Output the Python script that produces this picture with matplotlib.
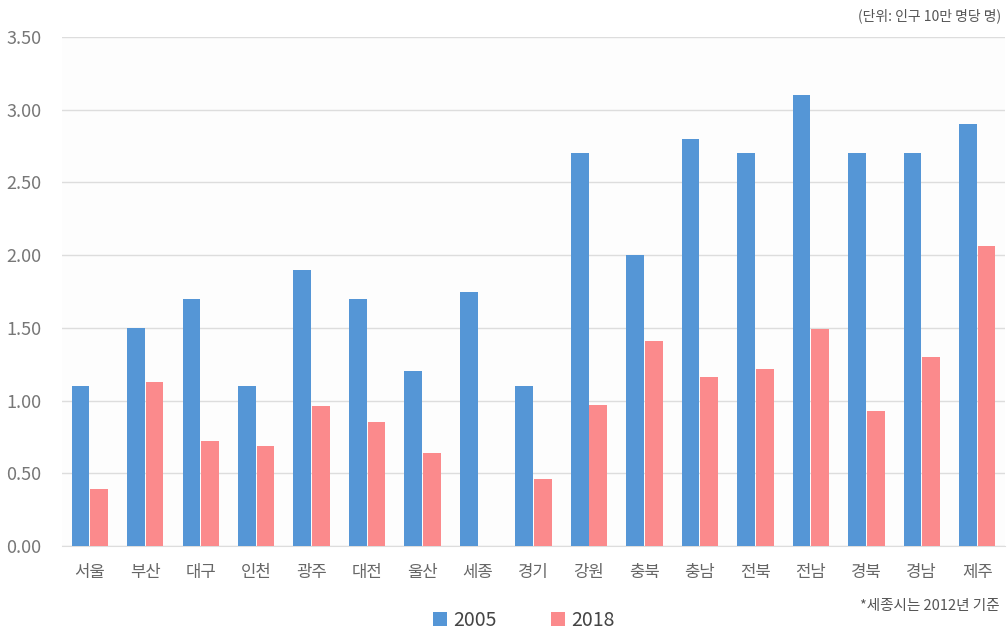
import numpy as np
import matplotlib
matplotlib.use('Agg')
import matplotlib.pyplot as plt

plt.rcParams['font.family'] = ['Noto Sans CJK KR', 'DejaVu Sans']

regions = ['서울', '부산', '대구', '인천', '광주', '대전', '울산', '세종', '경기',
           '강원', '충북', '충남', '전북', '전남', '경북', '경남', '제주']
vals_2005 = [1.10, 1.50, 1.70, 1.10, 1.90, 1.70, 1.20, 1.75, 1.10,
             2.70, 2.00, 2.80, 2.70, 3.10, 2.70, 2.70, 2.90]
vals_2018 = [0.39, 1.13, 0.72, 0.69, 0.96, 0.85, 0.64, 0.0, 0.46,
             0.97, 1.41, 1.16, 1.22, 1.49, 0.93, 1.30, 2.06]
years = ['2005', '2018']
yticks = [0.0, 0.5, 1.0, 1.5, 2.0, 2.5, 3.0, 3.5]

BLUE = '#5596d6'
PINK = '#fb8a8c'

fig = plt.figure(figsize=(10.07, 6.36), dpi=100)
fig.patch.set_facecolor('white')
ax = fig.add_axes([0.0616, 0.1415, 0.9364, 0.8003])
ax.set_facecolor('#fdfdfd')

x = np.arange(len(regions))
w = 0.32
ax.bar(x - 0.168, vals_2005, width=w, color=BLUE, label=years[0], zorder=3)
ax.bar(x + 0.168, vals_2018, width=w, color=PINK, label=years[1], zorder=3)

ax.set_xlim(-0.5, len(regions) - 0.5)
ax.set_ylim(0, 3.5)
ax.set_yticks(yticks)
ax.set_yticklabels([f'{v:.2f}' for v in yticks], fontsize=13, color='#777777')
ax.set_xticks(x)
ax.set_xticklabels(regions, fontsize=12, color='#666666')
ax.tick_params(axis='y', length=0, pad=15)
ax.tick_params(axis='x', length=0, pad=13)
ax.grid(True, axis='y', color='#dddddd', linewidth=1, zorder=0)
for s in ['top', 'right', 'left']:
    ax.spines[s].set_visible(False)
ax.spines['bottom'].set_color('#dddddd')

fig.text(0.994, 0.975, '(단위: 인구 10만 명당 명)', ha='right', va='center',
         fontsize=10, color='#555555')
fig.text(0.993, 0.047, '*세종시는 2012년 기준', ha='right', va='center',
         fontsize=10.5, color='#555555')

fig.legend(loc='center', bbox_to_anchor=(0.52, 0.025), ncol=2, frameon=False,
           fontsize=14, handlelength=0.75, handleheight=0.75, handletextpad=0.3,
           columnspacing=2.8, labelcolor='#444444')

fig.savefig('out.png', dpi=100)
